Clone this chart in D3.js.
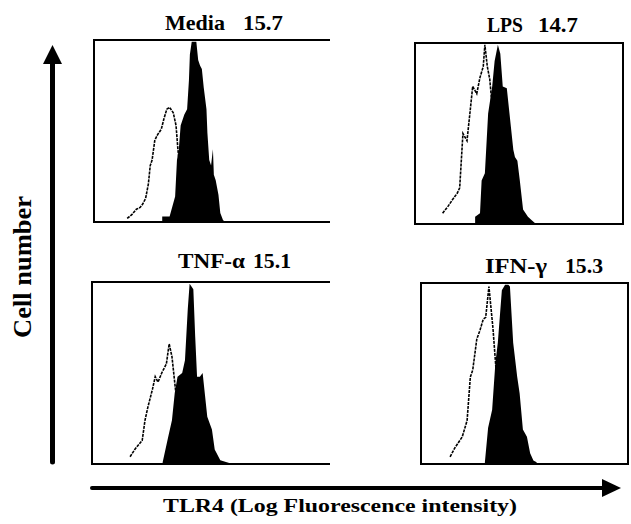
<!DOCTYPE html>
<html>
<head>
<meta charset="utf-8">
<script src="https://cdn.jsdelivr.net/npm/d3@7"></script>
<style>
  body { margin: 0; background: #fff; }
  text { font-family: "Liberation Serif", "Times New Roman", serif; font-weight: bold; fill: #000; }
</style>
</head>
<body>
<div id="chart"></div>
<script>
// panel labels and the numbers printed next to them
const panelNames = ["Media", "LPS", "TNF-\u03b1", "IFN-\u03b3"];
const panelValues = ["15.7", "14.7", "15.1", "15.3"];

// fluorescence channel (0-256) and relative cell count (0-100)
// open histogram = control, filled histogram = TLR4 stain
const mediaCtrlX = [36, 41, 46, 50, 53, 56, 59, 61, 63, 66, 69, 73, 76, 79, 82, 86, 89, 91, 94, 99, 104];
const mediaCtrlY = [2, 4, 7, 8, 10, 13, 21, 31, 34, 45, 48, 51, 57, 62, 63, 60, 53, 40, 26, 9, 1];
const mediaStainX = [74, 82, 88, 90, 92, 94, 98, 101, 103, 104, 106, 109, 111, 113, 115, 117, 119, 122, 123, 125, 127, 129, 130, 132, 135, 137, 140, 143];
const mediaStainY = [3, 3, 14, 34, 40, 53, 59, 62, 78, 92, 99, 99, 99, 89, 86, 84, 74, 62, 49, 34, 31, 40, 26, 23, 15, 5, 1, 0];

const lpsCtrlX = [34, 41, 47, 52, 55, 59, 64, 68, 71, 76, 80, 84, 86, 89, 92, 97, 102, 107, 112];
const lpsCtrlY = [6, 10, 14, 17, 20, 50, 46, 63, 76, 72, 81, 87, 99, 87, 80, 55, 25, 5, 0];
const lpsStainX = [74, 80, 82, 86, 90, 95, 98, 102, 105, 108, 113, 117, 121, 123, 126, 129, 133, 139, 144, 149];
const lpsStainY = [4, 6, 24, 28, 61, 76, 90, 99, 94, 76, 75, 58, 41, 37, 35, 24, 8, 4, 2, 0];

const tnfCtrlX = [41, 46, 54, 57, 60, 65, 68, 71, 75, 80, 83, 86, 90, 95, 100, 105];
const tnfCtrlY = [4, 8, 13, 24, 31, 41, 48, 45, 50, 55, 66, 59, 40, 20, 6, 0];
const tnfStainX = [76, 82, 86, 89, 92, 97, 100, 103, 105, 109, 111, 113, 116, 119, 124, 129, 132, 138, 145, 151];
const tnfStainY = [1, 15, 24, 39, 48, 50, 57, 85, 99, 96, 70, 48, 48, 50, 26, 19, 8, 2, 1, 0];

const ifnCtrlX = [36, 42, 51, 57, 61, 64, 69, 73, 77, 80, 84, 89, 94, 99, 104, 110];
const ifnCtrlY = [4, 9, 15, 24, 48, 52, 69, 74, 80, 81, 98, 75, 45, 20, 5, 0];
const ifnStainX = [79, 83, 88, 92, 95, 100, 104, 108, 110, 114, 119, 122, 126, 131, 135, 139, 143];
const ifnStainY = [1, 20, 30, 56, 67, 96, 99, 99, 98, 67, 48, 39, 19, 15, 6, 2, 1];

const zip = (xs, ys) => xs.map((x, i) => ({ x, y: ys[i] }));
const series = [
  { ctrl: zip(mediaCtrlX, mediaCtrlY), stain: zip(mediaStainX, mediaStainY) },
  { ctrl: zip(lpsCtrlX, lpsCtrlY), stain: zip(lpsStainX, lpsStainY) },
  { ctrl: zip(tnfCtrlX, tnfCtrlY), stain: zip(tnfStainX, tnfStainY) },
  { ctrl: zip(ifnCtrlX, ifnCtrlY), stain: zip(ifnStainX, ifnStainY) }
];

// where each panel sits on the page
const boxes = [
  { x: 94, y: 40, w: 236, h: 182, open: true, tx: [165, 243], ty: 30, tw: [60, 40] },
  { x: 415, y: 43, w: 208, h: 181, open: false, tx: [487, 538], ty: 32, tw: [36, 40] },
  { x: 92, y: 282, w: 238, h: 182, open: true, tx: [178, 253], ty: 268, tw: [67, 38] },
  { x: 421, y: 283, w: 207, h: 181, open: false, tx: [485, 565], ty: 273, tw: [62, 38] }
];

const svg = d3.select("#chart")
  .append("svg")
  .attr("width", 631)
  .attr("height", 524);

boxes.forEach((b, i) => {
  const x = d3.scaleLinear().domain([0, 256]).range([0, b.w]);
  const y = d3.scaleLinear().domain([0, 100]).range([b.h, 0]);

  const g = svg.append("g").attr("transform", `translate(${b.x},${b.y})`);

  const area = d3.area()
    .x(d => x(d.x))
    .y0(b.h)
    .y1(d => y(d.y));

  const line = d3.line()
    .x(d => x(d.x))
    .y(d => y(d.y));

  // control histogram: white with a dotted edge
  g.append("path")
    .attr("d", area(series[i].ctrl))
    .attr("fill", "#fff");
  g.append("path")
    .attr("d", line(series[i].ctrl))
    .attr("fill", "none")
    .attr("stroke", "#000")
    .attr("stroke-width", 1.6)
    .attr("stroke-dasharray", "3,1");

  // stained histogram: solid black
  g.append("path")
    .attr("d", area(series[i].stain))
    .attr("fill", "#000");

  // frame (left panels have no visible right edge in the scan)
  const frame = b.open
    ? `M${b.w},0H0V${b.h}H${b.w}`
    : `M0,0H${b.w}V${b.h}H0Z`;
  g.append("path")
    .attr("d", frame)
    .attr("fill", "none")
    .attr("stroke", "#000")
    .attr("stroke-width", 2);

  // title
  svg.append("text")
    .attr("x", b.tx[0])
    .attr("y", b.ty)
    .attr("font-size", 21)
    .attr("textLength", b.tw[0])
    .attr("lengthAdjust", "spacingAndGlyphs")
    .text(panelNames[i]);
  svg.append("text")
    .attr("x", b.tx[1])
    .attr("y", b.ty)
    .attr("font-size", 21)
    .attr("textLength", b.tw[1])
    .attr("lengthAdjust", "spacingAndGlyphs")
    .text(panelValues[i]);
});

// y arrow
svg.append("line")
  .attr("x1", 52.5).attr("y1", 462)
  .attr("x2", 52.5).attr("y2", 60)
  .attr("stroke", "#000")
  .attr("stroke-width", 5)
  .attr("stroke-linecap", "round");
svg.append("path")
  .attr("d", "M52.5,45L62,64L43,64Z")
  .attr("fill", "#000");

svg.append("text")
  .attr("transform", "translate(31,267) rotate(-90)")
  .attr("text-anchor", "middle")
  .attr("font-size", 25)
  .attr("textLength", 142)
  .attr("lengthAdjust", "spacingAndGlyphs")
  .text("Cell number");

// x arrow
svg.append("line")
  .attr("x1", 92).attr("y1", 488)
  .attr("x2", 605).attr("y2", 488)
  .attr("stroke", "#000")
  .attr("stroke-width", 4)
  .attr("stroke-linecap", "round");
svg.append("path")
  .attr("d", "M621,488L602,479L602,497Z")
  .attr("fill", "#000");

svg.append("text")
  .attr("x", 163)
  .attr("y", 512)
  .attr("font-size", 19)
  .attr("textLength", 354)
  .attr("lengthAdjust", "spacingAndGlyphs")
  .text("TLR4 (Log Fluorescence intensity)");
</script>
</body>
</html>
